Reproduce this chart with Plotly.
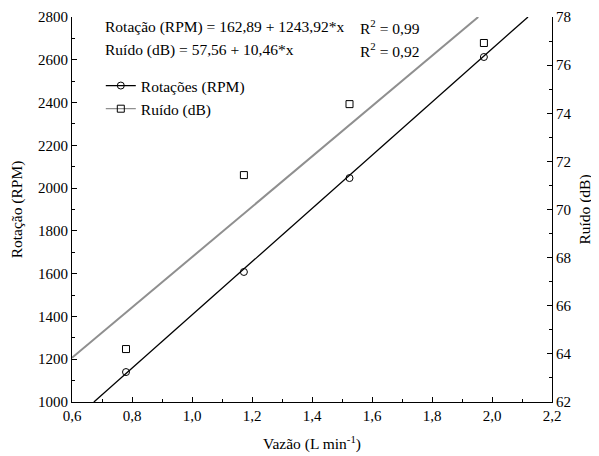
import plotly.graph_objects as go

# Data
vazao = [0.78, 1.173, 1.525, 1.973]
rotacao_rpm = [1140, 1608, 2047, 2613]
ruido_db = [64.2, 71.43, 74.38, 76.92]

# Regression coefficients (from the chart text)
rpm_a, rpm_b = 162.89, 1243.92
db_a, db_b = 57.56, 10.46

x_tickvals = [0.6, 0.8, 1.0, 1.2, 1.4, 1.6, 1.8, 2.0, 2.2]
x_ticktext = ["0,6", "0,8", "1,0", "1,2", "1,4", "1,6", "1,8", "2,0", "2,2"]
y1_range = [1000, 2800]
y2_range = [62, 78]
x_range = [0.6, 2.2]

# Fitted lines, clipped to the axes ranges
rpm_x0 = (y1_range[0] - rpm_a) / rpm_b
rpm_x1 = (y1_range[1] - rpm_a) / rpm_b
rpm_line_x = [rpm_x0, rpm_x1]
rpm_line_y = [rpm_a + rpm_b * v for v in rpm_line_x]

db_x0 = x_range[0]
db_x1 = (y2_range[1] - db_a) / db_b
db_line_x = [db_x0, db_x1]
db_line_y = [db_a + db_b * v for v in db_line_x]

FONT = "Liberation Serif, DejaVu Serif, serif"
TICK_SIZE = 15
TEXT_SIZE = 15.5

fig = go.Figure()

fig.add_trace(go.Scatter(x=rpm_line_x, y=rpm_line_y, mode="lines",
                         line=dict(color="black", width=1.3), showlegend=False, yaxis="y"))
fig.add_trace(go.Scatter(x=db_line_x, y=db_line_y, mode="lines",
                         line=dict(color="#8f8f8f", width=2), showlegend=False, yaxis="y2"))
fig.add_trace(go.Scatter(x=vazao, y=rotacao_rpm, mode="markers",
                         marker=dict(symbol="circle-open", size=7, color="black", line=dict(width=1)),
                         showlegend=False, yaxis="y"))
fig.add_trace(go.Scatter(x=vazao, y=ruido_db, mode="markers",
                         marker=dict(symbol="square-open", size=7, color="black", line=dict(width=1)),
                         showlegend=False, yaxis="y2"))

# Legend entries
fig.add_trace(go.Scatter(x=[None], y=[None], mode="lines+markers", name="Rotações (RPM)",
                         line=dict(color="black", width=1.3),
                         marker=dict(symbol="circle-open", size=7, color="black")))
fig.add_trace(go.Scatter(x=[None], y=[None], mode="lines+markers", name="Ruído (dB)",
                         line=dict(color="#8f8f8f", width=1.3),
                         marker=dict(symbol="square-open", size=7, color="black")))

axis_common = dict(showline=True, linecolor="black", linewidth=1, ticks="inside",
                   ticklen=5, tickcolor="black", showgrid=False, zeroline=False,
                   automargin=False,
                   tickfont=dict(family=FONT, size=TICK_SIZE, color="black"))

# The page body has an 8px margin; the figure is sized/offset to compensate.
fig.update_layout(
    width=591, height=448, autosize=False,
    margin=dict(l=64, r=47, t=9, b=54, autoexpand=False),
    paper_bgcolor="white", plot_bgcolor="white",
    font=dict(family=FONT, size=TEXT_SIZE, color="black"),
    xaxis=dict(range=x_range, tickvals=x_tickvals, ticktext=x_ticktext,
               minor=dict(ticks="inside", ticklen=3, dtick=0.1, tickcolor="black"),
               title=dict(text="Vazão (L min<sup>-1</sup>)", font=dict(family=FONT, size=TEXT_SIZE), standoff=15),
               **axis_common),
    yaxis=dict(range=y1_range, dtick=200,
               minor=dict(ticks="inside", ticklen=3, dtick=100, tickcolor="black"),
               title=dict(text="Rotação (RPM)", font=dict(family=FONT, size=TEXT_SIZE), standoff=12),
               **axis_common),
    yaxis2=dict(range=y2_range, dtick=2, overlaying="y", side="right",
                minor=dict(ticks="inside", ticklen=3, dtick=1, tickcolor="black"),
                title=dict(text="Ruído (dB)", font=dict(family=FONT, size=TEXT_SIZE), standoff=8),
                **axis_common),
    legend=dict(x=0.06, y=0.865, xanchor="left", yanchor="top", bgcolor="rgba(0,0,0,0)",
                font=dict(family=FONT, size=TEXT_SIZE), itemwidth=30, tracegroupgap=0),
    showlegend=True,
)

ann_font = dict(family=FONT, size=TEXT_SIZE, color="black")
fig.add_annotation(xref="paper", yref="paper", x=0.065, y=0.974, xanchor="left", yanchor="middle",
                   text="Rotação (RPM) = 162,89 + 1243,92*x", showarrow=False, font=ann_font)
fig.add_annotation(xref="paper", yref="paper", x=0.596, y=0.974, xanchor="left", yanchor="middle",
                   text="R<sup>2</sup> = 0,99", showarrow=False, font=ann_font)
fig.add_annotation(xref="paper", yref="paper", x=0.065, y=0.914, xanchor="left", yanchor="middle",
                   text="Ruído (dB) = 57,56 + 10,46*x", showarrow=False, font=ann_font)
fig.add_annotation(xref="paper", yref="paper", x=0.596, y=0.914, xanchor="left", yanchor="middle",
                   text="R<sup>2</sup> = 0,92", showarrow=False, font=ann_font)

fig.write_html("out.html")
